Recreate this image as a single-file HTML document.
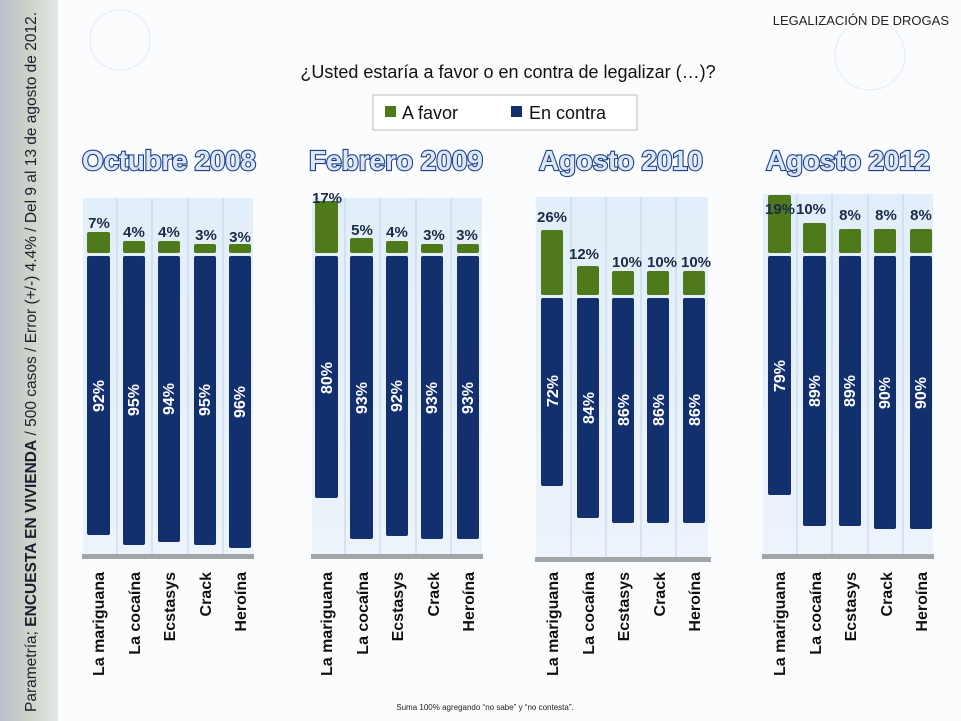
<!DOCTYPE html>
<html><head><meta charset="utf-8"><style>
html,body{margin:0;padding:0;background:#fff;}
svg{display:block;font-family:"Liberation Sans",sans-serif;}
.t{fill:#dce8f7;stroke:#1d3f8e;stroke-width:2.2;font-weight:bold;font-size:28px;text-anchor:middle;paint-order:stroke;}
.g{fill:#4f7a1c;}
.b{fill:#13306e;}
.gl{fill:#1b2a48;font-weight:bold;font-size:15px;text-anchor:middle;}
.bl{fill:#fff;font-weight:bold;font-size:16px;text-anchor:middle;}
.cl{fill:#111;font-weight:bold;font-size:16px;text-anchor:end;}
.bg{fill:url(#bgg);}
.vl{stroke:#bcd6ea;stroke-width:1;}
</style></head><body>
<svg width="961" height="721" viewBox="0 0 961 721" xmlns="http://www.w3.org/2000/svg">
<defs>
<linearGradient id="bgg" x1="0" y1="0" x2="0" y2="1"><stop offset="0" stop-color="#e2eef9"/><stop offset="1" stop-color="#edf3fa"/></linearGradient>
<linearGradient id="strip" x1="0" y1="0" x2="1" y2="0"><stop offset="0" stop-color="#b9c0cc"/><stop offset="0.5" stop-color="#cdd3c8"/><stop offset="1" stop-color="#e4e8e6"/></linearGradient>
</defs>
<rect width="961" height="721" fill="#fbfcfd"/>
<rect x="0" y="0" width="58" height="721" fill="url(#strip)"/>
<g stroke="#e6ebf2" fill="none" stroke-width="1">
<circle cx="120" cy="40" r="30"/><circle cx="870" cy="55" r="35"/>
</g>
<text transform="translate(36,712) rotate(-90)" font-size="15.5" fill="#1a2030" textLength="700" lengthAdjust="spacingAndGlyphs">Parametría; <tspan font-weight="bold">ENCUESTA EN VIVIENDA</tspan> / 500 casos / Error (+/-) 4.4% / Del 9 al 13 de agosto de 2012.</text>
<text x="949" y="25" font-size="13" text-anchor="end" fill="#222">LEGALIZACIÓN DE DROGAS</text>
<text x="508" y="78" font-size="18" text-anchor="middle" fill="#111">¿Usted estaría a favor o en contra de legalizar (…)?</text>
<rect x="373" y="95" width="264" height="35" fill="#fff" stroke="#bbb"/>
<rect x="385" y="106" width="11" height="11" class="g"/>
<text x="402" y="119" font-size="18" fill="#111">A favor</text>
<rect x="511" y="106" width="11" height="11" class="b"/>
<text x="529" y="119" font-size="18" fill="#111">En contra</text>

<text class="t" x="169" y="170" textLength="174">Octubre 2008</text>
<text class="t" x="396" y="170" textLength="174">Febrero 2009</text>
<text class="t" x="621" y="170" textLength="164">Agosto 2010</text>
<text class="t" x="848" y="170" textLength="164">Agosto 2012</text>

<!-- Panel 1 -->
<rect class="bg" x="83" y="198" width="170" height="357"/>
<g class="vl"><line x1="117" y1="198" x2="117" y2="555"/><line x1="152" y1="198" x2="152" y2="555"/><line x1="188" y1="198" x2="188" y2="555"/><line x1="223" y1="198" x2="223" y2="555"/></g>
<rect x="82" y="554" width="172" height="5" fill="#a3a6a9"/>
<rect class="g" x="87" y="232" width="23" height="21" rx="2"/>
<rect class="g" x="123" y="241" width="22" height="12" rx="2"/>
<rect class="g" x="158" y="241" width="22" height="12" rx="2"/>
<rect class="g" x="194" y="244" width="22" height="9" rx="2"/>
<rect class="g" x="229" y="244" width="22" height="9" rx="2"/>
<rect class="b" x="87" y="256" width="23" height="279" rx="2"/>
<rect class="b" x="123" y="256" width="22" height="289" rx="2"/>
<rect class="b" x="158" y="256" width="22" height="286" rx="2"/>
<rect class="b" x="194" y="256" width="22" height="289" rx="2"/>
<rect class="b" x="229" y="256" width="22" height="292" rx="2"/>
<text class="gl" x="99" y="228">7%</text><text class="gl" x="134" y="237">4%</text><text class="gl" x="169" y="237">4%</text><text class="gl" x="206" y="240">3%</text><text class="gl" x="240" y="242">3%</text>
<text class="bl" transform="translate(104,396) rotate(-90)">92%</text>
<text class="bl" transform="translate(139,400) rotate(-90)">95%</text>
<text class="bl" transform="translate(174,399) rotate(-90)">94%</text>
<text class="bl" transform="translate(210,400) rotate(-90)">95%</text>
<text class="bl" transform="translate(245,402) rotate(-90)">96%</text>
<text class="cl" transform="translate(104,572) rotate(-90)">La mariguana</text>
<text class="cl" transform="translate(140,572) rotate(-90)">La cocaína</text>
<text class="cl" transform="translate(175,572) rotate(-90)">Ecstasys</text>
<text class="cl" transform="translate(211,572) rotate(-90)">Crack</text>
<text class="cl" transform="translate(246,572) rotate(-90)">Heroína</text>

<!-- Panel 2 -->
<rect class="bg" x="312" y="198" width="170" height="357"/>
<g class="vl"><line x1="345" y1="198" x2="345" y2="555"/><line x1="380" y1="198" x2="380" y2="555"/><line x1="416" y1="198" x2="416" y2="555"/><line x1="451" y1="198" x2="451" y2="555"/></g>
<rect x="311" y="554" width="172" height="5" fill="#a3a6a9"/>
<rect class="g" x="315" y="201" width="23" height="52" rx="2"/>
<rect class="g" x="350" y="238" width="23" height="15" rx="2"/>
<rect class="g" x="386" y="241" width="22" height="12" rx="2"/>
<rect class="g" x="421" y="244" width="22" height="9" rx="2"/>
<rect class="g" x="457" y="244" width="22" height="9" rx="2"/>
<rect class="b" x="315" y="256" width="23" height="242" rx="2"/>
<rect class="b" x="350" y="256" width="23" height="283" rx="2"/>
<rect class="b" x="386" y="256" width="22" height="280" rx="2"/>
<rect class="b" x="421" y="256" width="22" height="283" rx="2"/>
<rect class="b" x="457" y="256" width="22" height="283" rx="2"/>
<text class="gl" x="327" y="203">17%</text><text class="gl" x="362" y="235">5%</text><text class="gl" x="397" y="237">4%</text><text class="gl" x="434" y="240">3%</text><text class="gl" x="467" y="240">3%</text>
<text class="bl" transform="translate(332,378) rotate(-90)">80%</text>
<text class="bl" transform="translate(367,398) rotate(-90)">93%</text>
<text class="bl" transform="translate(402,396) rotate(-90)">92%</text>
<text class="bl" transform="translate(437,398) rotate(-90)">93%</text>
<text class="bl" transform="translate(473,398) rotate(-90)">93%</text>
<text class="cl" transform="translate(332,572) rotate(-90)">La mariguana</text>
<text class="cl" transform="translate(368,572) rotate(-90)">La cocaína</text>
<text class="cl" transform="translate(403,572) rotate(-90)">Ecstasys</text>
<text class="cl" transform="translate(439,572) rotate(-90)">Crack</text>
<text class="cl" transform="translate(474,572) rotate(-90)">Heroína</text>

<!-- Panel 3 -->
<rect class="bg" x="536" y="197" width="172" height="361"/>
<g class="vl"><line x1="571" y1="197" x2="571" y2="558"/><line x1="606" y1="197" x2="606" y2="558"/><line x1="641" y1="197" x2="641" y2="558"/><line x1="676" y1="197" x2="676" y2="558"/></g>
<rect x="535" y="557" width="176" height="5" fill="#a3a6a9"/>
<rect class="g" x="541" y="230" width="22" height="65" rx="2"/>
<rect class="g" x="577" y="266" width="22" height="29" rx="2"/>
<rect class="g" x="612" y="271" width="22" height="24" rx="2"/>
<rect class="g" x="647" y="271" width="22" height="24" rx="2"/>
<rect class="g" x="683" y="271" width="22" height="24" rx="2"/>
<rect class="b" x="541" y="298" width="22" height="188" rx="2"/>
<rect class="b" x="577" y="298" width="22" height="220" rx="2"/>
<rect class="b" x="612" y="298" width="22" height="225" rx="2"/>
<rect class="b" x="647" y="298" width="22" height="225" rx="2"/>
<rect class="b" x="683" y="298" width="22" height="225" rx="2"/>
<text class="gl" x="552" y="222">26%</text><text class="gl" x="584" y="259">12%</text><text class="gl" x="627" y="267">10%</text><text class="gl" x="662" y="267">10%</text><text class="gl" x="696" y="267">10%</text>
<text class="bl" transform="translate(558,391) rotate(-90)">72%</text>
<text class="bl" transform="translate(594,408) rotate(-90)">84%</text>
<text class="bl" transform="translate(629,410) rotate(-90)">86%</text>
<text class="bl" transform="translate(664,410) rotate(-90)">86%</text>
<text class="bl" transform="translate(700,410) rotate(-90)">86%</text>
<text class="cl" transform="translate(558,572) rotate(-90)">La mariguana</text>
<text class="cl" transform="translate(594,572) rotate(-90)">La cocaína</text>
<text class="cl" transform="translate(629,572) rotate(-90)">Ecstasys</text>
<text class="cl" transform="translate(665,572) rotate(-90)">Crack</text>
<text class="cl" transform="translate(700,572) rotate(-90)">Heroína</text>

<!-- Panel 4 -->
<rect class="bg" x="763" y="194" width="170" height="361"/>
<g class="vl"><line x1="797" y1="194" x2="797" y2="555"/><line x1="832" y1="194" x2="832" y2="555"/><line x1="868" y1="194" x2="868" y2="555"/><line x1="903" y1="194" x2="903" y2="555"/></g>
<rect x="762" y="554" width="172" height="5" fill="#a3a6a9"/>
<rect class="g" x="768" y="195" width="23" height="58" rx="2"/>
<rect class="g" x="803" y="223" width="23" height="30" rx="2"/>
<rect class="g" x="839" y="229" width="22" height="24" rx="2"/>
<rect class="g" x="874" y="229" width="22" height="24" rx="2"/>
<rect class="g" x="910" y="229" width="22" height="24" rx="2"/>
<rect class="b" x="768" y="256" width="23" height="239" rx="2"/>
<rect class="b" x="803" y="256" width="23" height="270" rx="2"/>
<rect class="b" x="839" y="256" width="22" height="270" rx="2"/>
<rect class="b" x="874" y="256" width="22" height="273" rx="2"/>
<rect class="b" x="910" y="256" width="22" height="273" rx="2"/>
<text class="gl" x="780" y="214">19%</text><text class="gl" x="811" y="214">10%</text><text class="gl" x="850" y="220">8%</text><text class="gl" x="886" y="220">8%</text><text class="gl" x="921" y="220">8%</text>
<text class="bl" transform="translate(785,376) rotate(-90)">79%</text>
<text class="bl" transform="translate(820,391) rotate(-90)">89%</text>
<text class="bl" transform="translate(855,391) rotate(-90)">89%</text>
<text class="bl" transform="translate(890,393) rotate(-90)">90%</text>
<text class="bl" transform="translate(926,393) rotate(-90)">90%</text>
<text class="cl" transform="translate(785,572) rotate(-90)">La mariguana</text>
<text class="cl" transform="translate(821,572) rotate(-90)">La cocaína</text>
<text class="cl" transform="translate(856,572) rotate(-90)">Ecstasys</text>
<text class="cl" transform="translate(892,572) rotate(-90)">Crack</text>
<text class="cl" transform="translate(927,572) rotate(-90)">Heroína</text>

<text x="485" y="710" font-size="8" text-anchor="middle" fill="#222">Suma 100%  agregando “no sabe” y “no contesta”.</text>
</svg>
</body></html>
